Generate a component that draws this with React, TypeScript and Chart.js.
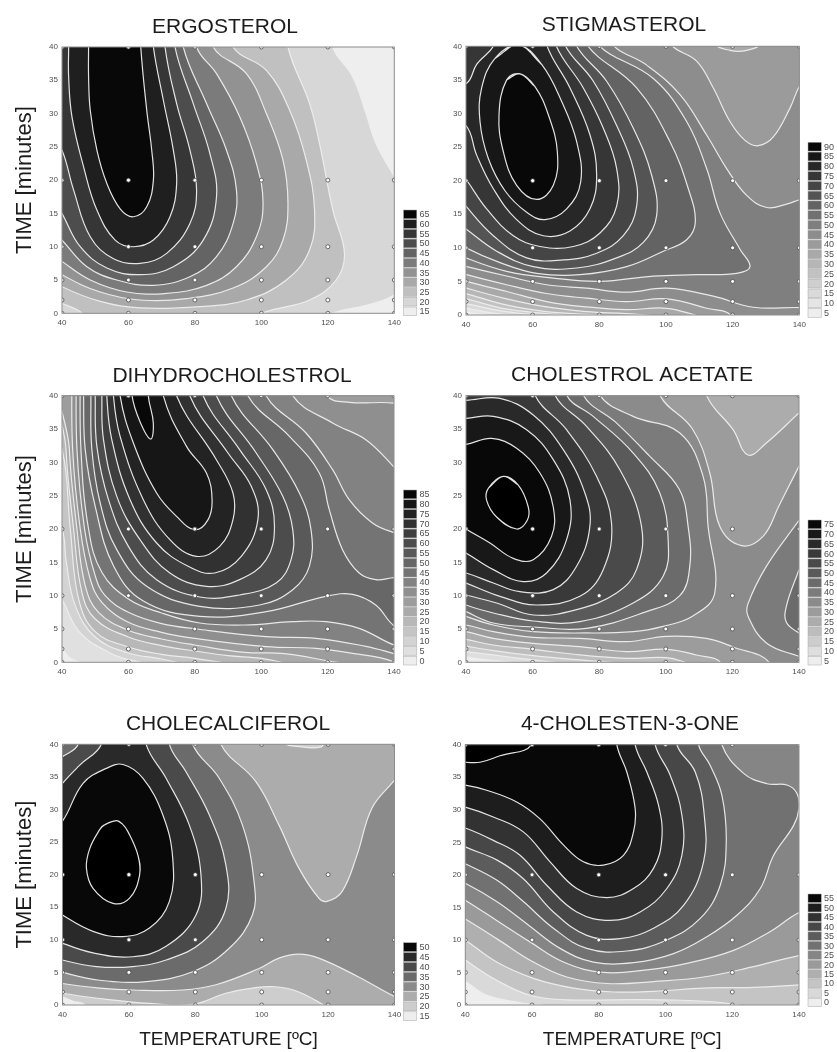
import React, { useEffect, useRef } from "react";
import { Chart, registerables } from "chart.js";

Chart.register(...registerables);

type Contour = [number, number[]];

const temperatures = [40, 60, 80, 100, 120, 140];
const times = [0, 2, 5, 10, 20, 40];

const ergosterolLabels = [65, 60, 55, 50, 45, 40, 35, 30, 25, 20, 15];
const ergosterolContours: Contour[] = [
  [20, [121.5,45, 121.5,40, 127.5,35.5, 131.5,30, 134.5,25.5, 140,20.5, 146,15, 146,6, 140,2.8, 131.5,1.2, 122.5,.2, 119,-1, 118,-5, 34,-5, 34,45]],
  [25, [108,45, 108,40, 114.5,31.5, 117.5,25.5, 121.5,15.5, 125,9, 122.5,5, 114.5,2, 101.5,.25, 97,-1, 95,-5, 50,-5, 47,-1, 45.5,.25, 40,1.5, 34,3, 34,45]],
  [30, [91.5,45, 91.5,40, 101.5,36.5, 108.5,30.5, 113.5,23, 116,15.5, 114.5,9.5, 107.5,5, 95.5,2, 81.5,1, 63.5,.8, 51.5,1.8, 40,4, 34,6, 34,45]],
  [35, [85.5,45, 85.5,40, 95.5,36, 101.5,30, 106.5,23, 108,16.5, 106.5,11, 101.5,7, 91.5,3.8, 77.5,2.2, 63.5,2, 51.5,3.2, 40,5.8, 34,8, 34,45]],
  [40, [80.5,45, 80.5,40, 86.5,36, 93.5,29.5, 98.5,22.5, 100.5,16.5, 98.5,11.5, 92.5,7, 83.5,4.2, 71.5,3, 59.5,3.2, 48.5,5, 40,7.8, 34,10, 34,45]],
  [45, [76.5,45, 76.5,40, 83.5,31.5, 89.5,24.5, 92.5,18.5, 91.5,13.5, 86.5,8.5, 78.5,5.5, 67.5,4.2, 56.5,5, 47.5,7, 40,11, 34,14, 34,45]],
  [50, [74,45, 74,40, 79.5,31.5, 84.5,24, 86.5,17.5, 82.5,11, 73.5,7, 63.5,5.8, 53.5,6.8, 45.5,10, 40,15, 34,20, 34,45]],
  [55, [71,45, 71,40, 74.5,31.5, 78.5,24.5, 80.5,18.5, 78.5,13.5, 71.5,9, 63.5,7.5, 55.5,8.2, 48.5,11.5, 43.5,18.5, 40,24.5, 34,30, 34,45]],
  [60, [42,45, 42,40, 42,35.5, 43,29.5, 46.5,22, 50.5,15.5, 56,11, 61.5,10, 67.5,11, 72.5,14.5, 74.5,19.5, 73.5,24.5, 70.5,32, 67.5,40, 67,45]],
  [65, [48,45, 48,40, 48,35.5, 48.5,30.5, 50.5,24.5, 53.5,19.5, 57.5,15.7, 61.5,14.5, 65.5,16, 67.5,20, 67,24.5, 65.5,30.5, 63.7,40, 63.5,45]],
];

const stigmasterolLabels = [90, 85, 80, 75, 70, 65, 60, 55, 50, 45, 40, 35, 30, 25, 20, 15, 10, 5];
const stigmasterolContours: Contour[] = [
  [10, [50,-.2, 40,.4, 34,.8, 34,45, 146,45, 146,-5, 50,-5]],
  [15, [58,-.2, 48,.3, 40,1, 34,1.5, 34,45, 146,45, 146,-5, 58,-5]],
  [20, [66,-.2, 52,.5, 40,1.7, 34,2.2, 34,45, 146,45, 146,-5, 66,-5]],
  [25, [74,-.2, 64,.2, 52,.9, 40,2.4, 34,3, 34,45, 146,45, 146,-5, 74,-5]],
  [30, [86,-.2, 76,.1, 64,.5, 52,1.5, 40,3.2, 34,4, 34,45, 146,45, 146,-5, 86,-5]],
  [35, [99.2,-.2, 88,.2, 76.2,.5, 64.2,1.2, 52.2,2.4, 40.2,4, 34,5, 34,45, 146,45, 146,-5, 99.2,-5]],
  [40, [110.2,-.2, 100.2,1, 88.2,.8, 76.2,1.2, 64.2,2, 52.2,3.5, 40.2,5, 34,6, 34,45, 114.7,45, 114.7,40.5, 119.2,39.4, 124.2,39.4, 128.4,40.5, 128.4,45, 146,45, 146,-5, 110.2,-5]],
  [45, [101.2,45, 101.2,40.5, 109.2,37.8, 114.2,33.8, 119.2,28.8, 123.7,26, 127.7,25.2, 132.2,26.5, 137.2,30.8, 140.2,34.2, 146,38, 146,-5, 120,-5, 119.7,-.2, 112.2,1, 100.2,2.4, 88.2,2, 76.2,2.5, 64.2,3.2, 52.2,4.5, 40.2,6, 34,7, 34,45]],
  [50, [83.7,45, 83.7,40.5, 94.2,37.2, 104.2,32.8, 112.2,26.8, 118.2,21.8, 124.2,17.8, 130.2,16, 136.2,16.5, 140.2,17.2, 146,18, 146,.8, 140.2,1.1, 126.2,1.15, 114.2,2.8, 100.2,4, 88.2,3.4, 76.2,4, 64.2,4.5, 52.2,5.8, 40.2,7.2, 34,8, 34,45]],
  [55, [79.2,45, 79.2,40.5, 96.2,35.2, 106.2,28.8, 112.2,21.8, 116.2,15.2, 122.2,9.8, 125.2,7.2, 121.2,6.2, 109.2,6, 96.2,5.8, 80.2,5, 66.2,5.5, 52.2,6.5, 40,8.5, 34,10, 34,45]],
  [60, [75.9,45, 75.9,40.5, 91.2,33.8, 101.2,25.8, 106.7,18.8, 108.8,13.8, 106.2,11.2, 99.2,9.5, 88.2,7.2, 74.2,6, 61.2,6.2, 50.2,7.8, 40,10, 34,12, 34,45]],
  [65, [72.7,45, 72.7,40.5, 82.2,34.8, 90.2,27.8, 95.7,20.8, 97.2,14.8, 93.2,10.8, 85.2,8.5, 73.2,7, 60.2,7.2, 49.2,9.5, 40,12.8, 34,15, 34,45]],
  [70, [69.4,45, 69.4,40.5, 78.2,34.8, 85.2,28.2, 90.2,21.8, 91.2,16.2, 87.2,11.8, 79.2,9.2, 69.2,8.2, 58.2,8.5, 48.2,11.8, 40,16.2, 34,20, 34,45]],
  [75, [66.7,45, 66.7,40.5, 75.2,33.8, 81.2,27.8, 85.2,21.8, 85.2,16.2, 80.2,12.2, 72.2,10.2, 62.2,10.2, 54.2,11.8, 46.2,15.8, 40,20.2, 34,24, 34,45]],
  [80, [64,45, 64,40.5, 71.2,33.8, 77.2,26.8, 79.2,20.8, 77.2,15.8, 71.2,12.5, 63.2,11.8, 55.2,14.2, 48.2,18.8, 43.2,23.8, 40,28.2, 34,29, 34,34, 40.2,34.5, 43.2,37.3, 48.7,40.5, 48.7,45]],
  [85, [55.7,40.2, 48.7,38.2, 44.7,33.8, 44.2,28.8, 46.7,23.3, 51.7,18.5, 58.2,15.3, 63.7,14.2, 70.2,15.8, 74.4,19.8, 73.2,25.8, 68.7,31.8, 62.7,37.3, 55.7,40.2]],
  [90, [56.2,35.9, 52.2,35, 49.9,29.8, 51.2,24.3, 55.2,19.3, 61.2,17.2, 66.2,19.3, 67.4,24.3, 64.7,29.8, 60.7,34, 56.2,35.9]],
];

const dihydroLabels = [85, 80, 75, 70, 65, 60, 55, 50, 45, 40, 35, 30, 25, 20, 15, 10, 5, 0];
const dihydroContours: Contour[] = [
  [5, [46.5,-.2, 42.5,.6, 40,1.9, 34,3, 34,45, 146,45, 146,-5, 46.5,-5]],
  [10, [66,-.2, 60,.4, 54.5,1.4, 45.5,4.4, 40,9.4, 34,14, 34,45, 146,45, 146,-5, 66,-5]],
  [15, [76,-.2, 70,.5, 60,1.4, 50,3.8, 44,8.5, 41.3,15, 40,20, 34,26, 34,45, 146,45, 146,-5, 76,-5]],
  [20, [90,-.2, 80,.6, 70,1.2, 60,2.3, 50,4.6, 45,9.5, 42.5,20, 40,32, 34,38, 34,45, 146,45, 146,-5, 90,-5]],
  [25, [108,-.2, 100,.6, 90,1, 80,1.7, 70,2.5, 60,3.8, 50,6.5, 46,10.5, 43.5,20, 41.2,32, 41,45, 146,45, 146,-5, 108,-5]],
  [30, [127,-.3, 121.5,.1, 107,1.3, 95,1.5, 80,2.6, 70,3.5, 60,4.8, 51,7.5, 47,11.5, 44.5,20, 42.2,32, 42,45, 146,45, 146,-5, 127,-5]],
  [35, [120,45, 120,40, 126.5,39, 139.8,38.9, 146,38, 146,-2, 139.8,.1, 127.5,1.35, 116.5,2.1, 101.5,2.35, 80,3.6, 70,4.5, 60,6, 52,9, 48.5,12.5, 45.5,20, 43.2,32, 43,45]],
  [40, [109.5,45, 109.5,40, 121.5,35.9, 131.5,33.4, 139.8,29.4, 146,26, 146,.5, 139.8,1.35, 131.5,2.4, 116.5,3.6, 101.5,3.85, 80.5,5, 70,5.8, 60,7.5, 53,10, 50,13, 46.8,20, 44.5,32, 44.3,45]],
  [45, [101.5,45, 101.5,40, 113.5,34.4, 121.5,28.9, 126.5,24.4, 133.5,20.9, 139.8,19.5, 146,19, 146,2, 140,2.6, 129.5,5.1, 119.5,6.1, 109.5,6.1, 95,5.6, 81.5,5.9, 70,7.4, 60,9.5, 52,13.5, 48,20, 45.7,32, 45.5,45]],
  [50, [96,45, 96,40, 108.5,33.9, 117.5,28.4, 120.5,22.9, 124.5,16.9, 129.5,13.4, 134.5,12.4, 140,12.7, 146,12.7, 146,4.5, 140,5.5, 134.5,8.6, 127.5,10.2, 119.5,9.9, 101.5,7.6, 81.5,6.9, 64.5,9.2, 55.5,14.5, 50,23.4, 47,31.9, 46.5,40, 46.5,45]],
  [55, [91,45, 91,40, 103.5,31.9, 111.5,25.4, 115,19.9, 114.5,14.4, 109.5,10.9, 99.5,8.6, 81.5,8.4, 65.5,11.4, 56.5,16.9, 51.5,23.9, 49,31.9, 48.7,40, 48.7,45]],
  [60, [86.5,45, 86.5,40, 98.5,31.4, 106.5,24.9, 109.5,19.9, 109,15.4, 104.5,11.9, 93.5,10.1, 81.5,9.8, 68.5,12.4, 60,17.4, 54,24.4, 50.5,32.4, 50,40, 50,45]],
  [65, [82.5,45, 82.5,40, 93.5,31.9, 101.5,25.9, 104,20.4, 101.5,15.4, 93.5,12.4, 83.5,11.4, 72.5,13.4, 63.5,18.4, 56.5,24.9, 52.5,33.4, 52,40, 52,45]],
  [70, [78.5,45, 78.5,40, 90,31.4, 97,26.4, 99,21.4, 94,15.9, 86,13.4, 78,14.4, 68.5,17.9, 60.5,24.4, 55,33.4, 53.5,40, 53.5,45]],
  [75, [74.5,45, 74.5,40, 86.5,30.4, 91.5,25.4, 91.5,21.4, 87.5,17.4, 80.5,15.9, 72.5,18.4, 64.5,24.4, 57.5,33.9, 55.5,40, 55.5,45]],
  [80, [70.5,45, 70.5,40, 77.5,32.4, 83.5,28.4, 85.2,24.4, 84,21.4, 80,19.9, 74.5,21.9, 68.5,25.4, 61.5,32.9, 57.5,40, 57.5,45]],
  [85, [61.1,45, 61.1,40, 63.5,36.1, 66.7,33.5, 67.5,35.9, 66,40, 66,45]],
];

const acetateLabels = [75, 70, 65, 60, 55, 50, 45, 40, 35, 30, 25, 20, 15, 10, 5];
const acetateContours: Contour[] = [
  [10, [56,-.2, 50,.2, 44,.5, 40,.8, 34,1.2, 34,45, 146,45, 146,-5, 56,-5]],
  [15, [70,-.2, 60.2,.35, 48.2,1.1, 40,1.6, 34,2, 34,45, 146,45, 146,-5, 70,-5]],
  [20, [88.2,-.2, 74.2,.35, 60.2,1, 48.2,1.75, 40,2.45, 34,3, 34,45, 146,45, 146,-5, 88.2,-5]],
  [25, [107.2,-.2, 100.2,.7, 88.2,.6, 74.2,1.1, 60.2,1.95, 48.2,2.6, 40,3.45, 34,4, 34,45, 146,45, 146,-5, 107.2,-5]],
  [30, [112.2,45, 112.2,40.1, 120.2,34.9, 124.7,31.1, 130.2,32.9, 140,37.4, 146,40, 146,-5, 116.7,-5, 116.7,-.2, 109.2,1.1, 100.2,1.95, 88.2,1.6, 74.2,2.35, 60.2,2.85, 48.2,3.6, 40,4.6, 34,5, 34,45]],
  [35, [98.2,45, 98.2,40.1, 108,35, 113.2,28.4, 116.2,20.4, 122.7,17.5, 129.2,18.9, 134,23.5, 140,29.4, 146,35, 146,-5, 131.2,-5, 131.2,-.1, 120.2,2.3, 112.2,3.6, 100.2,3.9, 88.2,3.1, 74.2,3.6, 60.2,3.75, 48.2,4.6, 40,5.6, 34,6, 34,45]],
  [40, [80.2,45, 80.2,40.1, 90.2,36.9, 104.2,34.4, 111.2,27.9, 112.7,20.4, 114.7,10.4, 108,6.9, 99.2,5.4, 90.2,4.6, 76.2,4.4, 60.2,4.6, 48.2,5.6, 40,6.9, 34,8, 34,45]],
  [40, [140,21.3, 130.2,14.4, 124.7,8.8, 124.7,6.9, 130.2,2.9, 140,.9, 146,0, 146,22]],
  [45, [140,13.9, 136.2,8.4, 136.2,6, 140,4.4, 146,3, 146,15]],
  [45, [75.2,45, 75.2,40.1, 85,36, 95,31, 104,26, 106.7,20.4, 107.2,14.4, 104.2,10, 94.2,7.6, 76.2,5.1, 60.2,5.3, 48.2,5.9, 40,7.6, 34,9, 34,45]],
  [50, [70.2,45, 70.2,40.1, 78.2,36.9, 90.2,31.4, 98.2,25.4, 100.7,18.4, 99.2,12.9, 90.2,8.9, 74.2,6.1, 60.2,6.2, 48.2,7.4, 40,8.6, 34,10, 34,45]],
  [55, [66.7,45, 66.7,40.1, 76.2,35.4, 86.2,28.9, 92.7,20.4, 91.2,13.9, 85.2,10.4, 73.2,7.9, 60.2,7.1, 49.2,8.9, 40,10.1, 34,11, 34,45]],
  [60, [60.7,45, 60.7,40.1, 70.2,34.9, 79.2,27.9, 83.7,20.9, 81.2,13.9, 74.2,9.9, 61.2,8.6, 50.2,9.9, 40,11.9, 34,13, 34,45]],
  [65, [34,39.3, 40,39.3, 50.2,39.6, 60.2,37.1, 69.2,31.9, 75.7,25.4, 77.2,20.4, 73.2,14.4, 66.2,10.9, 56.2,10.6, 48.2,11.9, 40,13.4, 34,14]],
  [70, [34,36.6, 40,36.6, 48.2,36.9, 58.2,34.9, 66.2,30.4, 71.2,24.4, 70.2,18.4, 64.2,13.4, 57.2,12.1, 48.2,13.9, 40,16.4, 34,18]],
  [75, [34,32.7, 40,32.7, 47.7,33.6, 55.2,32.1, 62.2,28.4, 66.2,23.3, 65.7,18.9, 60.2,15.4, 54.2,15.6, 47.2,17.9, 40,20, 34,22]],
  [80, [51.2,27.9, 46.7,26.1, 46.2,24.3, 49.2,21.8, 55.2,20, 58.4,21.3, 58.7,23.3, 55.7,26.6, 51.2,27.9]],
];

const cholecalciferolLabels = [50, 45, 40, 35, 30, 25, 20, 15];
const cholecalciferolContours: Contour[] = [
  [20, [34,2, 40,1.2, 43,.6, 47,-.2, 47,-5, 146,-5, 146,45, 34,45]],
  [25, [119.7,-.3, 111.2,2, 104.2,2.8, 97.2,2.6, 89.2,1.8, 79.2,.1, 66.2,.25, 51.2,1, 40,1.8, 34,2.5, 34,45, 146,45, 146,-5, 119.7,-5]],
  [30, [87.7,45, 87.7,40, 98.2,34.3, 105.2,27.6, 111.2,21, 117.2,16.4, 119.7,15.9, 124.2,17.4, 128.7,23, 133.2,30.2, 139.7,34.3, 146,38, 146,.2, 140,1.3, 129.2,4.3, 117.2,7.2, 111.2,7.8, 105.2,7.2, 99.2,5.6, 86.2,3.1, 76.2,2.3, 61.2,2.3, 51.2,2.6, 40,3.3, 34,4, 34,45]],
  [20, [106.7,45, 106.7,40.4, 112,39.6, 118,39.6, 118.7,40.4, 118.7,45]],
  [35, [79.2,45, 79.2,40, 87.2,34.8, 94.2,27.6, 97.7,18.9, 97.2,13.8, 90.2,8.7, 79.2,5.1, 65.2,3.6, 51.2,3.8, 40,5, 34,6, 34,45]],
  [40, [72.2,45, 72.2,40, 77.2,35.8, 84.2,29.2, 89.2,21.5, 89.2,14.8, 82.2,9.7, 71.2,6.9, 61.2,5.9, 50.2,5.9, 40,6.9, 34,8, 34,36, 40,38.1, 44.7,40, 44.7,45]],
  [45, [65.2,45, 65.2,40, 71.2,34.8, 78.2,27.6, 81.7,20, 80.2,13.8, 71.2,9, 61.2,7.4, 49.2,8, 40,9.5, 34,11, 34,30, 40,34, 45.2,36.8, 51.7,40, 51.7,45]],
  [50, [34,25, 40,28.2, 46.2,34, 53.2,36.3, 58.2,36.9, 64.2,34.8, 70.2,29.2, 73.2,22.5, 72.2,15.9, 66.2,11.8, 58.2,10.5, 49.2,11.3, 40,13.8, 34,16]],
  [55, [56.2,28.3, 52.5,27.6, 51.2,26.9, 48.2,24, 47.2,21, 49.2,17.9, 55.2,15.6, 60.2,16.4, 63.2,19.9, 62.7,23, 59.7,26.6, 58,27.8, 56.2,28.3]],
];

const cholestenoneLabels = [55, 50, 45, 40, 35, 30, 25, 20, 15, 10, 5, 0];
const cholestenoneContours: Contour[] = [
  [5, [34,5, 40,3.6, 46.4,1.5, 59.4,.1, 64,-.3, 64,-5, 146,-5, 146,45, 34,45]],
  [10, [124,-.2, 114.4,.5, 98.4,.8, 84.4,.8, 70.4,.8, 59.4,1.5, 49.4,3.8, 40,6.9, 34,9, 34,45, 146,45, 146,-5, 124,-5]],
  [15, [146,3.3, 140,3.1, 126.4,2.7, 111.4,2.6, 96.4,2.1, 84.4,2, 72.4,2.6, 60.4,4.1, 49.4,6.6, 40,10, 34,12, 34,45, 146,45]],
  [20, [146,8, 140,7.6, 126.4,5.9, 111.4,4.3, 96.4,3.6, 82.4,3.3, 70.4,4.3, 60.4,6.6, 49.4,10.2, 40,13.2, 34,15, 34,45, 146,45]],
  [25, [146,15, 140,14.2, 131.4,11.3, 120.4,8.4, 106.4,6.4, 94.4,5.4, 81.4,5, 69.4,6.6, 59.4,9.7, 49.4,13, 40,16.1, 34,18, 34,45, 146,45]],
  [30, [116.9,45, 116.9,40, 123.4,35.6, 130.4,34, 136.4,33.8, 139.4,32.5, 140,30.2, 138.4,27.6, 132.4,23, 128.4,17.9, 121.4,13.8, 112.4,10.5, 102.4,7.9, 90.4,6.5, 78.4,6.6, 68.4,8.7, 58.4,12.5, 49.4,15.9, 40,18.7, 34,20, 34,45]],
  [35, [109.9,45, 109.9,40, 113.4,36.8, 116.9,32.2, 118.2,25.1, 116.4,18.4, 110.4,13.3, 100.4,10, 88.4,8.3, 76.4,8.7, 66.4,11.8, 57.4,15.9, 49.4,19.2, 40,21.7, 34,23, 34,45]],
  [40, [103.4,45, 103.4,40, 108.9,35.8, 111.6,29.2, 111.4,22, 105.4,15.3, 96.4,11.8, 86.4,10.2, 76.4,10.7, 66.4,14.3, 57.4,19.4, 49.4,22.3, 40,24.3, 34,26, 34,45]],
  [45, [96.9,45, 96.9,40, 101.4,35.3, 104.9,29.2, 104.9,23, 100.4,17.9, 92.4,14.3, 83.4,13, 73.4,14.3, 64.4,18.4, 56.4,23, 48.4,25.3, 40,27.2, 34,28, 34,45]],
  [50, [90.9,45, 90.9,40, 94.4,35.8, 97.9,30.7, 98.9,25.6, 96.4,21, 90.4,17.9, 82.4,16.5, 73.4,17.9, 65.4,22, 57.4,26.6, 48.4,28.9, 40,30.4, 34,31, 34,45]],
  [55, [85.4,45, 85.4,40, 88.4,35.8, 90.9,30.2, 90.4,26.6, 87.4,23, 81.4,21.5, 75.4,22, 69.4,24.6, 62.4,28.6, 55.4,31.2, 46.4,33, 40,33.8, 34,34, 34,45]],
  [60, [59.9,45, 59.9,40, 50.4,38.3, 44.4,37.3, 40,37.3, 34,37.3, 34,45]],
];

const titles = ["ERGOSTEROL", "STIGMASTEROL", "DIHYDROCHOLESTROL", "CHOLESTROL ACETATE", "CHOLECALCIFEROL", "4-CHOLESTEN-3-ONE"];
const FONT = "'Liberation Sans', Arial, sans-serif";
const timeTitle = "TIME [minutes]";
const tempTitle = "TEMPERATURE [ºC]";

const layouts = [
  { labels: ergosterolLabels, contours: ergosterolContours, gamma: 1, left: 3, width: 444, top: 0, height: 335, plot: [62, 394.3, 47, 313.3], titleX: 225, titleY: 27, legend: [403.5, 210, 316.7], yTitle: true, xTitle: false },
  { labels: stigmasterolLabels, contours: stigmasterolContours, gamma: 1.15, left: 412, width: 424, top: 0, height: 335, plot: [466, 799.3, 46.3, 315], titleX: 624, titleY: 25, legend: [808, 142.3, 318.3], yTitle: false, xTitle: false },
  { labels: dihydroLabels, contours: dihydroContours, gamma: 1, left: 10, width: 444, top: 350, height: 335, plot: [62, 394, 395.7, 662.3], titleX: 232, titleY: 376, legend: [403.5, 490, 666], yTitle: true, xTitle: false },
  { labels: acetateLabels, contours: acetateContours, gamma: 1, left: 427, width: 409, top: 350, height: 335, plot: [466, 799, 395.7, 662.3], titleX: 632, titleY: 375, legend: [808, 520, 666], yTitle: false, xTitle: false },
  { labels: cholecalciferolLabels, contours: cholecalciferolContours, gamma: 1, left: 6, width: 444, top: 700, height: 352, plot: [62.5, 394.5, 744.3, 1005], titleX: 228, titleY: 724, legend: [403.5, 942.7, 1021.7], yTitle: true, xTitle: true },
  { labels: cholestenoneLabels, contours: cholestenoneContours, gamma: 1, left: 423, width: 414, top: 700, height: 352, plot: [465.3, 799, 744.7, 1005], titleX: 630, titleY: 724, legend: [808, 894, 1007.7], yTitle: false, xTitle: true },
];

function shade(level: number, labels: number[], gamma: number) {
  const max = Math.max(...labels);
  const min = Math.min(...labels);
  if (level > max) return "#000000";
  const f = Math.pow((level - min) / (max - min), gamma);
  const g = Math.round(8 + 230 * (1 - f));
  return `rgb(${g},${g},${g})`;
}

function toPoints(flat: number[]) {
  const pts: { x: number; y: number }[] = [];
  for (let k = 0; k < flat.length; k += 2) pts.push({ x: flat[k], y: flat[k + 1] });
  const a = pts[0];
  const b = pts[pts.length - 1];
  // a ring that closes on itself is overlapped by one vertex so its join stays smooth
  if (a.x === b.x && a.y === b.y) return [pts[pts.length - 2], ...pts, pts[1]];
  return pts;
}

function Panel({ index }: { index: number }) {
  const ref = useRef<HTMLCanvasElement | null>(null);
  useEffect(() => {
    const p = layouts[index];
    const [pl, pr, pt, pb] = p.plot;
    const titleSize = 21;
    const titleLine = titleSize * 1.2;
    const padTop = p.titleY - p.top - titleLine / 2;
    const padBottom = pt - p.top - titleLine - padTop;
    const ySize = 22;
    const base = Math.min(...p.labels);
    const shapes: Contour[] = [[base, [28, -12, 152, -12, 152, 52, 28, 52]], ...p.contours];
    const contourSets = shapes.map(([level, flat], i) => ({
      data: toPoints(flat),
      showLine: true,
      fill: "shape",
      backgroundColor: shade(level, p.labels, p.gamma),
      borderColor: i === 0 ? "transparent" : "rgba(238,238,238,0.95)",
      borderWidth: i === 0 ? 0 : 1.2,
      tension: 0.4,
      capBezierPoints: false,
      pointRadius: 0,
      clip: 0,
    }));
    const samples = temperatures.flatMap((x) => times.map((y) => ({ x, y })));
    const sampleSet = {
      data: samples,
      showLine: false,
      pointRadius: 2,
      pointBackgroundColor: "#ffffff",
      pointBorderColor: "#4a4a4a",
      pointBorderWidth: 0.8,
      clip: 0,
    };
    const frame = {
      id: "frameAndLegend",
      afterLayout(chart: any) {
        const t = chart.titleBlock;
        const half = (t.right - t.left) / 2;
        t.left = p.titleX - p.left - half;
        t.right = p.titleX - p.left + half;
      },
      afterDraw(chart: any) {
        const { ctx, chartArea: a } = chart;
        ctx.save();
        ctx.strokeStyle = "#8c8c8c";
        ctx.lineWidth = 1;
        ctx.strokeRect(a.left, a.top, a.right - a.left, a.bottom - a.top);
        const [lx, ly0, ly1] = p.legend;
        const h = (ly1 - ly0) / p.labels.length;
        ctx.font = `9px ${FONT}`;
        ctx.textBaseline = "middle";
        ctx.textAlign = "left";
        p.labels.forEach((label, i) => {
          const x = lx - p.left;
          const y = ly0 - p.top + i * h;
          ctx.fillStyle = shade(label, p.labels, p.gamma);
          ctx.fillRect(x, y, 13.3, h - 1);
          ctx.strokeStyle = "#a8a8a8";
          ctx.lineWidth = 0.5;
          ctx.strokeRect(x, y, 13.3, h - 1);
          ctx.fillStyle = "#4f4f4f";
          ctx.fillText(String(label), x + 16, y + h / 2);
        });
        ctx.restore();
      },
    };
    const tickStyle = { color: "#4f4f4f", font: { family: FONT, size: 8 } };
    const chart = new Chart(ref.current as HTMLCanvasElement, {
      type: "scatter",
      data: { datasets: [sampleSet, ...contourSets.slice().reverse()] as any },
      plugins: [frame],
      options: {
        responsive: false,
        animation: false,
        layout: { autoPadding: false, padding: { right: p.left + p.width - pr } },
        plugins: {
          legend: { display: false },
          tooltip: { enabled: false },
          title: {
            display: true,
            text: titles[index],
            color: "#1c1c1c",
            font: { family: FONT, size: titleSize, weight: "normal" },
            padding: { top: padTop, bottom: padBottom },
          },
        },
        scales: {
          x: {
            type: "linear",
            min: 40,
            max: 140,
            grid: { display: false, drawTicks: false },
            border: { display: false },
            ticks: { ...tickStyle, stepSize: 20, padding: 5, maxRotation: 0, autoSkip: false },
            afterFit(s: any) {
              s.height = p.top + p.height - pb;
            },
            title: {
              display: p.xTitle,
              text: tempTitle,
              color: "#1c1c1c",
              font: { family: FONT, size: 19, weight: "normal" },
              padding: { top: 0, bottom: 0.6 },
            },
          },
          y: {
            type: "linear",
            min: 0,
            max: 40,
            grid: { display: false, drawTicks: false },
            border: { display: false },
            ticks: { ...tickStyle, stepSize: 5, padding: 4, autoSkip: false },
            afterFit(s: any) {
              s.width = pl - p.left;
            },
            title: {
              display: p.yTitle,
              text: timeTitle,
              color: "#1c1c1c",
              font: { family: FONT, size: ySize, weight: "normal" },
              padding: { top: 25 - p.left - (ySize * 1.2) / 2, bottom: 0 },
            },
          },
        },
      } as any,
    });
    return () => chart.destroy();
  }, [index]);
  const p = layouts[index];
  return (
    <canvas
      ref={ref}
      width={p.width}
      height={p.height}
      style={{ position: "absolute", left: p.left, top: p.top, width: p.width, height: p.height }}
    />
  );
}

export default function App() {
  return (
    <div style={{ position: "absolute", left: 0, top: 0, width: 837, height: 1052, overflow: "hidden", background: "#ffffff" }}>
      {layouts.map((_, i) => (
        <Panel key={i} index={i} />
      ))}
    </div>
  );
}
